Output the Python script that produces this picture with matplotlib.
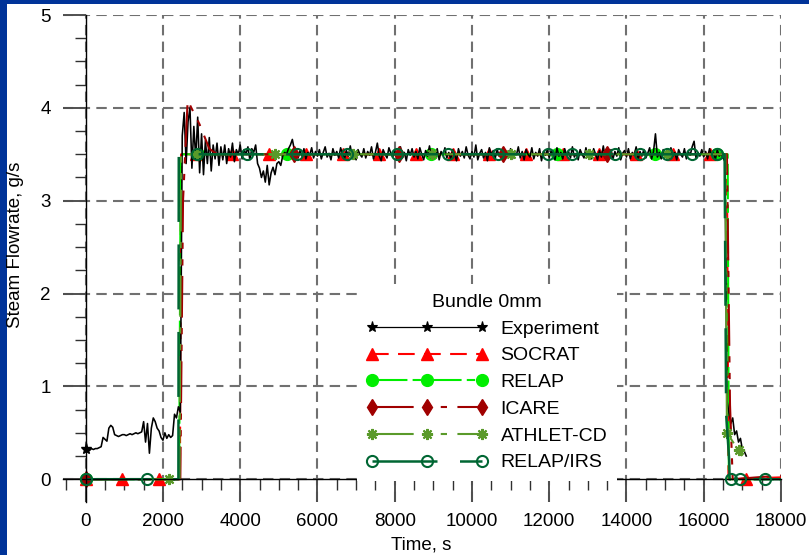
import numpy as np
import matplotlib
matplotlib.use("Agg")
import matplotlib.pyplot as plt
from matplotlib.lines import Line2D
from matplotlib.patches import Rectangle
from matplotlib.ticker import MultipleLocator

plt.rcParams['font.family'] = ['Liberation Sans', 'DejaVu Sans']

# ---------------- data ----------------
# Experiment: measured steam flow rate, sampled every 50 s from 0 to 17100 s
exp_time = np.arange(0, 17101, 50)
exp_flow = [
    # 0 - 950 s
    0.33, 0.32, 0.31, 0.33, 0.32, 0.33, 0.33, 0.34, 0.35, 0.45,
    0.43, 0.41, 0.55, 0.58, 0.56, 0.48, 0.47, 0.46, 0.47, 0.48,
    # 1000 - 1950 s
    0.48, 0.47, 0.48, 0.49, 0.48, 0.49, 0.50, 0.49, 0.50, 0.51,
    0.62, 0.40, 0.60, 0.28, 0.55, 0.66, 0.62, 0.55, 0.52, 0.45,
    # 2000 - 2950 s
    0.42, 0.50, 0.44, 0.48, 0.45, 0.47, 0.70, 0.66, 0.78, 0.72,
    3.70, 3.95, 3.40, 3.85, 4.00, 3.35, 3.80, 3.45, 3.90, 3.30,
    # 3000 - 3950 s
    3.72, 3.28, 3.65, 3.40, 3.68, 3.32, 3.60, 3.45, 3.62, 3.38,
    3.58, 3.44, 3.60, 3.40, 3.56, 3.47, 3.62, 3.42, 3.55, 3.50,
    # 4000 - 4950 s
    3.60, 3.45, 3.55, 3.50, 3.58, 3.44, 3.56, 3.52, 3.60, 3.40,
    3.35, 3.25, 3.32, 3.20, 3.38, 3.17, 3.30, 3.36, 3.28, 3.40,
    # 5000 - 5950 s
    3.42, 3.38, 3.48, 3.52, 3.50, 3.56, 3.60, 3.66, 3.55, 3.50,
    3.46, 3.54, 3.48, 3.56, 3.45, 3.52, 3.49, 3.57, 3.46, 3.53,
    # 6000 - 6950 s
    3.48, 3.55, 3.45, 3.52, 3.58, 3.47, 3.51, 3.44, 3.56, 3.49,
    3.53, 3.46, 3.57, 3.50, 3.45, 3.54, 3.48, 3.59, 3.47, 3.52,
    # 7000 - 7950 s
    3.44, 3.55, 3.50, 3.47, 3.56, 3.46, 3.53, 3.49, 3.58, 3.45,
    3.52, 3.62, 3.48, 3.43, 3.55, 3.50, 3.46, 3.57, 3.51, 3.47,
    # 8000 - 8950 s
    3.54, 3.45, 3.50, 3.58, 3.46, 3.52, 3.43, 3.55, 3.49, 3.56,
    3.47, 3.53, 3.45, 3.57, 3.50, 3.44, 3.54, 3.48, 3.59, 3.46,
    # 9000 - 9950 s
    3.51, 3.47, 3.56, 3.44, 3.53, 3.49, 3.57, 3.46, 3.52, 3.45,
    3.55, 3.50, 3.43, 3.56, 3.48, 3.53, 3.46, 3.58, 3.49, 3.45,
    # 10000 - 10950 s
    3.53, 3.47, 3.60, 3.44, 3.51, 3.55, 3.46, 3.52, 3.43, 3.57,
    3.49, 3.54, 3.45, 3.56, 3.48, 3.51, 3.44, 3.55, 3.50, 3.47,
    # 11000 - 11950 s
    3.56, 3.45, 3.52, 3.49, 3.58, 3.46, 3.53, 3.44, 3.55, 3.50,
    3.47, 3.57, 3.45, 3.52, 3.48, 3.56, 3.43, 3.53, 3.49, 3.55,
    # 12000 - 12950 s
    3.46, 3.54, 3.50, 3.44, 3.57, 3.48, 3.52, 3.45, 3.56, 3.49,
    3.53, 3.46, 3.58, 3.47, 3.51, 3.44, 3.55, 3.50, 3.46, 3.57,
    # 13000 - 13950 s
    3.48, 3.53, 3.45, 3.56, 3.50, 3.44, 3.54, 3.47, 3.59, 3.46,
    3.52, 3.49, 3.55, 3.45, 3.53, 3.48, 3.57, 3.44, 3.51, 3.54,
    # 14000 - 14950 s
    3.47, 3.56, 3.45, 3.52, 3.49, 3.58, 3.44, 3.53, 3.48, 3.55,
    3.46, 3.51, 3.57, 3.45, 3.53, 3.72, 3.47, 3.52, 3.45, 3.55,
    # 15000 - 15950 s
    3.49, 3.54, 3.46, 3.57, 3.48, 3.52, 3.44, 3.55, 3.50, 3.47,
    3.56, 3.45, 3.53, 3.49, 3.58, 3.64, 3.46, 3.52, 3.48, 3.55,
    # 16000 - 16950 s
    3.47, 3.53, 3.45, 3.56, 3.49, 3.52, 3.44, 3.55, 3.48, 3.51,
    3.46, 3.42, 0.85, 0.72, 0.60, 0.66, 0.48, 0.52, 0.40, 0.44,
    # 17000 - 17100 s
    0.32, 0.30, 0.25,
]

# Code results: curve breakpoints and symbol positions
socrat_t = [0, 2440, 2470, 16600, 16640, 18000]
socrat_y = [0.0, 0.0, 3.5, 3.5, 0.0, 0.02]
socrat_mt = [0, 950, 1900, 2850, 3800, 4750, 5700, 6650, 7600, 8550, 9500,
             10450, 11400, 12350, 13300, 14250, 15200, 16150, 17100]
socrat_my = [0.0, 0.0, 0.0, 3.5, 3.5, 3.5, 3.5, 3.5, 3.5, 3.5, 3.5,
             3.5, 3.5, 3.5, 3.5, 3.5, 3.5, 3.5, 0.0]

relap_t = [0, 2420, 2460, 16620, 16650, 18000]
relap_y = [0.0, 0.0, 3.5, 3.5, 0.0, 0.0]
relap_mt = [0, 2900, 5200, 8950, 12200, 14750, 16350]
relap_my = [0.0, 3.5, 3.5, 3.5, 3.5, 3.5, 3.5]

icare_t = [0, 2450, 2520, 2640, 2950, 3200, 3400, 16600, 16680, 16750, 18000]
icare_y = [0.0, 0.0, 3.0, 4.08, 3.82, 3.56, 3.5, 3.5, 0.8, 0.0, 0.04]
icare_mt = [0, 5400, 8100, 10800, 13500]
icare_my = [0.0, 3.5, 3.5, 3.5, 3.5]

athlet_t = [0, 2430, 2470, 16560, 16600, 16900, 17000]
athlet_y = [0.0, 0.0, 3.5, 3.5, 0.5, 0.31, 0.25]
athlet_mt = [2150, 2870, 4900, 6930, 8970, 11000, 13030, 15060, 16600, 16900]
athlet_my = [0.0, 3.5, 3.5, 3.5, 3.5, 3.5, 3.5, 3.5, 0.5, 0.31]

irs_t = [0, 2400, 2410, 16540, 16580, 16660, 16670, 18000]
irs_y = [0.0, 0.0, 3.5, 3.5, 0.7, 0.2, 0.0, 0.0]
irs_mt = [0, 1600, 2890, 4180, 5480, 6770, 8070, 9390, 10680, 11980, 12600,
          13710, 14360, 15050, 15700, 16350, 16700, 16950, 17580]
irs_my = [0.0, 0.0, 3.5, 3.5, 3.5, 3.5, 3.5, 3.5, 3.5, 3.5, 3.5,
          3.5, 3.5, 3.5, 3.5, 3.5, 0.0, 0.0, 0.0]

x_ticks = [0, 2000, 4000, 6000, 8000, 10000, 12000, 14000, 16000, 18000]
y_ticks = [0, 1, 2, 3, 4, 5]

# ---------------- styles ----------------
W, H = 809, 555
fs = 13.5
leg_fs = 14
red = '#ff0000'
lime = '#00ee00'
darkred = '#a00000'
olive = '#5a9a2a'
dgreen = '#006633'
asterisk = (8, 2, 0)

series = [
    dict(label='Experiment', color='black', lw=0.9, ls='-',
         marker='*', ms=8, mfc='black', mew=0.8),
    dict(label='SOCRAT', color=red, lw=1.5, ls=(0, (8, 4.5)),
         marker='^', ms=8, mfc=red, mew=1.0),
    dict(label='RELAP', color=lime, lw=1.5, ls=(0, (17, 2.5, 4, 2.5)),
         marker='o', ms=8.5, mfc=lime, mew=1.0),
    dict(label='ICARE', color=darkred, lw=1.5, ls=(0, (20, 5, 3, 5, 3, 5)),
         marker='d', ms=8, mfc=darkred, mew=1.0),
    dict(label='ATHLET-CD', color=olive, lw=1.5, ls=(0, (20, 5, 3, 5, 3, 5)),
         marker=asterisk, ms=8, mfc=olive, mew=1.5),
    dict(label='RELAP/IRS', color=dgreen, lw=1.8, ls=(0, (26, 9)),
         marker='o', ms=8, mfc='none', mew=1.5),
]

fig = plt.figure(figsize=(W / 100, H / 100), dpi=100)
fig.patch.set_facecolor('#003399')
fig.add_artist(Rectangle((7 / W, 0), 1, 1 - 4 / H, transform=fig.transFigure,
                         facecolor='white', edgecolor='none', zorder=-10))

left_px, right_px, top_px, bot_px = 62.5, 781.0, 15.0, 501.5
ax = fig.add_axes([left_px / W, 1 - bot_px / H,
                   (right_px - left_px) / W, (bot_px - top_px) / H])
ax.patch.set_alpha(0)

ax.set_xlim(-600, 18000)
ax.set_ylim(-0.24, 5)

# spines crossing at the origin
ax.spines['left'].set_position(('data', 0))
ax.spines['bottom'].set_position(('data', 0))
ax.spines['top'].set_visible(False)
ax.spines['right'].set_visible(False)
for s in ('left', 'bottom'):
    ax.spines[s].set_linewidth(1.0)
    ax.spines[s].set_color('black')

ax.set_xticks(x_ticks)
ax.set_xticklabels([str(v) for v in x_ticks])
ax.set_yticks(y_ticks)
ax.set_yticklabels([str(v) for v in y_ticks])
ax.xaxis.set_minor_locator(MultipleLocator(500))
ax.yaxis.set_minor_locator(MultipleLocator(0.25))
ax.tick_params(which='major', direction='out', length=16.5, width=1.4,
               color='#505050', labelsize=fs)
ax.tick_params(axis='y', which='major', pad=8.5)
ax.tick_params(axis='x', which='major', pad=8)
ax.tick_params(which='minor', direction='out', length=8, width=1.0,
               color='#303030')

ax.set_axisbelow(True)
ax.grid(True, which='major', color='#707070', linestyle=(0, (5, 3)),
        linewidth=1.5)

# ---------------- curves ----------------
curve_data = {
    'SOCRAT': (socrat_t, socrat_y, socrat_mt, socrat_my),
    'RELAP': (relap_t, relap_y, relap_mt, relap_my),
    'ICARE': (icare_t, icare_y, icare_mt, icare_my),
    'ATHLET-CD': (athlet_t, athlet_y, athlet_mt, athlet_my),
    'RELAP/IRS': (irs_t, irs_y, irs_mt, irs_my),
}
style = {d['label']: d for d in series}

def draw_code(name, z):
    st = style[name]
    t, y, mt, my = curve_data[name]
    ax.plot(t, y, color=st['color'], lw=st['lw'], ls=st['ls'], zorder=z)
    ax.plot(mt, my, ls='none', marker=st['marker'], ms=st['ms'],
            mfc=st['mfc'], mec=st['color'], mew=st['mew'], zorder=z + 0.05)

draw_code('SOCRAT', 2.0)
draw_code('RELAP', 2.1)
ax.plot(exp_time, exp_flow, color='black', lw=1.15, zorder=2.2)
ax.plot([exp_time[0]], [exp_flow[0]], ls='none', marker='*', ms=8,
        color='black', zorder=2.25)
draw_code('ICARE', 2.3)
draw_code('ATHLET-CD', 2.4)
draw_code('RELAP/IRS', 2.5)

# ---------------- legend ----------------
handles = [Line2D([], [], color=d['color'], lw=d['lw'], ls=d['ls'],
                  marker=d['marker'], ms=d['ms'], mfc=d['mfc'],
                  mec=d['color'], mew=d['mew']) for d in series]
leg = ax.legend(handles, [d['label'] for d in series], title='Bundle 0mm',
                loc='upper left', bbox_to_anchor=(0.4093, 0.4465),
                borderaxespad=0.0,
                fontsize=leg_fs, title_fontsize=leg_fs, numpoints=3,
                handlelength=6.26, handletextpad=0.64, labelspacing=0.47,
                borderpad=0.5, frameon=True, fancybox=False,
                facecolor='white', edgecolor='none', framealpha=1.0)
leg.set_zorder(5)

# ---------------- axis titles ----------------
fig.text(421 / W, 1 - 545 / H, 'Time, s', ha='center', va='center',
         fontsize=fs)
fig.text(16 / W, 1 - 245 / H, 'Steam Flowrate, g/s', ha='center',
         va='center', rotation=90, fontsize=fs)

fig.savefig('out.png', dpi=100, facecolor=fig.get_facecolor())
